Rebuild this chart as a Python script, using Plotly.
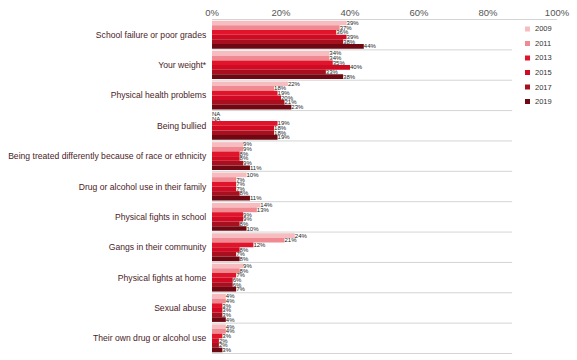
import plotly.graph_objects as go

categories = [
    "School failure or poor grades",
    "Your weight*",
    "Physical health problems",
    "Being bullied",
    "Being treated differently because of race or ethnicity",
    "Drug or alcohol use in their family",
    "Physical fights in school",
    "Gangs in their community",
    "Physical fights at home",
    "Sexual abuse",
    "Their own drug or alcohol use",
]

years = ["2009", "2011", "2013", "2015", "2017", "2019"]

# percent of students worried "a lot", by survey year (None = not asked)
v2009 = [39, 34, 22, None, 9, 10, 14, 24, 9, 4, 4]
v2011 = [37, 34, 18, None, 9, 7, 13, 21, 8, 4, 4]
v2013 = [36, 35, 19, 19, 8, 7, 9, 12, 7, 3, 3]
v2015 = [39, 40, 20, 18, 8, 7, 9, 8, 6, 3, 2]
v2017 = [38, 33, 21, 18, 9, 8, 8, 7, 6, 3, 2]
v2019 = [44, 38, 23, 19, 11, 11, 10, 8, 7, 4, 3]

series = [v2009, v2011, v2013, v2015, v2017, v2019]
colors = ["#f6bcc0", "#ef8a92", "#e0142a", "#cf0a22", "#a8101f", "#6e0812"]

W, H = 577, 360
ML, MR, MT, MB = 212, 20, 19, 6
PW, PH = W - ML - MR, H - MT - MB

fig = go.Figure()
for yr, vals, col in zip(years, series, colors):
    xs = [0 if v is None else v for v in vals]
    labels = ["NA" if v is None else f"{v}%" for v in vals]
    fig.add_trace(go.Bar(
        name=yr,
        y=categories,
        x=xs,
        orientation="h",
        marker=dict(color=col, line=dict(width=0)),
        text=labels,
        textposition="outside",
        cliponaxis=False,
        constraintext="none",
        showlegend=False,
        textfont=dict(size=6, color="#222222", family="Liberation Sans"),
    ))

# thin separators between category groups
shapes = []
n = len(categories)
for i in range(n + 1):
    yv = i - 0.5
    shapes.append(dict(
        type="line", xref="paper", yref="y",
        x0=0, x1=1.0 if i == 0 else 0.87, y0=yv, y1=yv,
        line=dict(color="#d4d4d4", width=1),
    ))

# compact key at the upper right: small square + year
annotations = []
for k, (yr, col) in enumerate(zip(years, colors)):
    py = 29 + 14.5 * k
    yc = 1 - (py - MT) / PH
    x0 = (525 - ML) / PW
    shapes.append(dict(
        type="rect", xref="paper", yref="paper",
        x0=x0, x1=x0 + 5 / PW, y0=yc - 2.5 / PH, y1=yc + 2.5 / PH,
        fillcolor=col, line=dict(width=0),
    ))
    annotations.append(dict(
        xref="paper", yref="paper", x=x0 + 8 / PW, y=yc,
        xanchor="left", yanchor="middle", showarrow=False,
        text=yr, font=dict(size=7.5, color="#333333"),
    ))

fig.update_layout(
    width=W, height=H,
    margin=dict(l=ML, r=MR, t=MT, b=MB),
    paper_bgcolor="white", plot_bgcolor="white",
    barmode="group", bargap=0.08, bargroupgap=0,
    shapes=shapes, annotations=annotations,
    showlegend=False,
    font=dict(family="Liberation Sans", size=8, color="#444444"),
    xaxis=dict(
        side="top", range=[0, 100], tickvals=[0, 20, 40, 60, 80, 100],
        ticktext=["0%", "20%", "40%", "60%", "80%", "100%"],
        showgrid=False, zeroline=False, showline=False, ticks="",
        tickfont=dict(size=9.5, color="#555555"),
    ),
    yaxis=dict(
        autorange="reversed", showgrid=False, zeroline=False, showline=False,
        ticks="", ticksuffix="  ",
        tickfont=dict(size=8.6, color="#4a2326"),
        range=[n - 0.5, -0.5],
    ),
)

fig.write_html("out.html")
